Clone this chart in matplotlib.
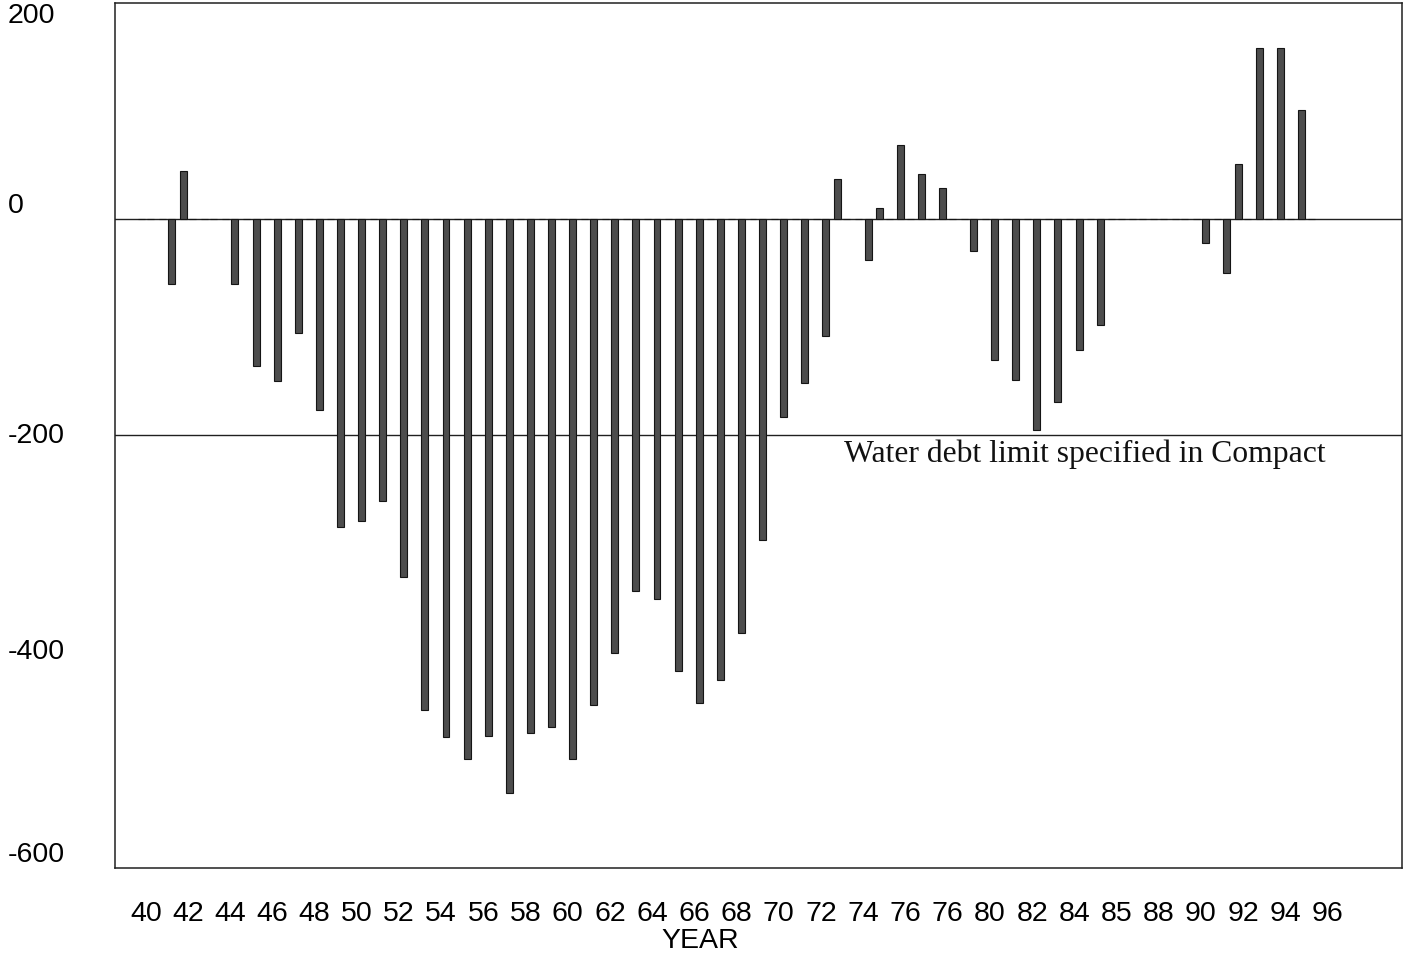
"""
Cumulative water debit / credit by year, with the Compact debt limit marked
"""

#Third party imports
import numpy as np
import matplotlib
matplotlib.use('Agg')
import matplotlib.pyplot as plt

# -----------------------------

# Accrued balance at end of each year (thousand acre-feet)
years = np.arange(1940, 1996)
balance = [
    0, -60, 45, 0, -60, -136, -150, -105, -176, -285,      # 1940-1949
    -279, -261, -331, -454, -479, -499, -478, -531, -475, -470,  # 1950-1959
    -499, -449, -401, -344, -351, -418, -447, -426, -383, -297,  # 1960-1969
    -183, -151, -108, 37, -38, 10, 69, 42, 29, -29,        # 1970-1979
    -130, -149, -195, -169, -121, -98, 0, 0, 0, 0,         # 1980-1989
    -22, -50, 51, 158, 158, 101,                           # 1990-1995
]

# Tick labels as printed on the original (including its typos)
tick_years = np.arange(1940, 1997, 2)
tick_labels = ['40', '42', '44', '46', '48', '50', '52', '54', '56', '58',
               '60', '62', '64', '66', '68', '70', '72', '74', '76', '76',
               '80', '82', '84', '85', '88', '90', '92', '94', '96']

y_ticks = [200, 0, -200, -400, -600]
debt_limit = -200


def plot_balance():
    balance_arr = np.asarray(balance, dtype=float)
    debit = np.where(balance_arr < 0, balance_arr, 0.0)
    credit = np.where(balance_arr > 0, balance_arr, 0.0)

    fig = plt.figure(figsize=(14.13, 9.63), dpi=100)
    ax = fig.add_axes([115 / 1413, 95 / 963, 1287 / 1413, 865 / 963])

    # Two series side by side like a clustered column chart: credit slot left, debit slot right
    shift = 0.225
    width = 0.33
    bar_style = dict(width=width, color='#4d4d4d', edgecolor='#151515', linewidth=0.8, zorder=3)
    ax.bar(years + shift, debit, **bar_style)
    ax.bar(years - shift, credit, **bar_style)

    ax.axhline(0, color='#202020', lw=1.0, zorder=2)
    ax.axhline(debt_limit, color='#202020', lw=1.0, zorder=2)
    ax.text(1973.1, -217, 'Water debt limit specified in Compact',
            family='Liberation Serif', fontsize=22.8, va='center', ha='left', color='#111111')

    ax.set_xlim(1938.54, 1999.53)
    ax.set_ylim(-600, 200)

    ax.set_xticks(tick_years)
    ax.set_xticklabels(tick_labels)
    ax.set_yticks(y_ticks)
    ax.set_yticklabels([str(v) for v in y_ticks])

    ax.tick_params(axis='x', length=0, pad=24, labelsize=20.5)
    ax.tick_params(axis='y', length=0, pad=77, labelsize=20.5)
    # labels sit loosely around their values on the original, keep them inside the figure
    y_va = ['top', 'bottom', 'center', 'center', 'bottom']
    for lbl, va in zip(ax.get_yticklabels(), y_va):
        lbl.set_horizontalalignment('left')
        lbl.set_verticalalignment(va)
    for lbl in ax.get_xticklabels() + ax.get_yticklabels():
        lbl.set_family('Liberation Sans')

    ax.set_xlabel('YEAR', family='Liberation Sans', fontsize=20.5)
    ax.xaxis.set_label_coords((700 - 115) / 1287, (868 - 928) / 865)

    for side in ['left', 'right', 'top', 'bottom']:
        ax.spines[side].set_color('#202020')
        ax.spines[side].set_linewidth(1.1)

    fig.savefig('out.png', dpi=100)


plot_balance()
